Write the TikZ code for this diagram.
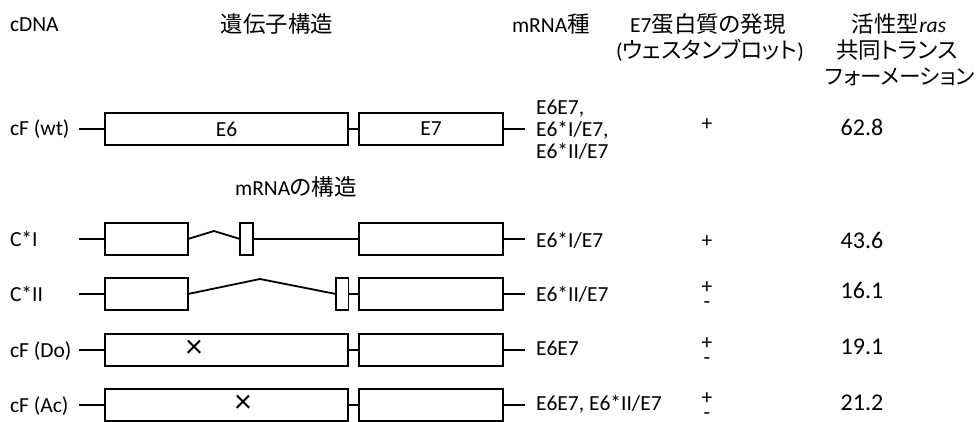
\documentclass[tikz,border=0pt]{standalone}
\usepackage{fontspec}
\setmainfont{Carlito}
\newfontfamily\jp[RawFeature=+palt]{Noto Sans CJK JP}
\newcommand{\jt}[1]{{\jp\fontsize{22.5}{26}\selectfont #1}}
\newcommand{\plusminusstack}{\makebox[0pt][c]{+}\makebox[0pt][c]{\smash{\raisebox{-14.7pt}{-}}}}
\begin{document}
\begin{tikzpicture}[x=1pt,y=-1pt,
  every node/.style={font=\fontsize{21.5}{26}\selectfont, inner sep=0pt, outer sep=0pt},
  exon/.style={draw, line width=1.7pt, minimum height=32pt, fill=white},
  stub/.style={line width=2.7pt},
  splice/.style={line width=1.8pt},
  lbl/.style={anchor=base west},
  hdr/.style={anchor=base},
  val/.style={anchor=center, font=\fontsize{24}{28}\selectfont},
  signmark/.style={anchor=center},
  crossmark/.style={anchor=center, font=\fontsize{33}{33}\selectfont}
]
\useasboundingbox (0,0) rectangle (976,422);

% ---------------- header ----------------
\node[lbl] (hcdna) at (10,32) {cDNA};
\node[hdr] (hgene) at (277,33) {\jt{遺伝子構造}};
\node[lbl] (hmrna) at (512,33) {mRNA\jt{種}};
\node[hdr] (hprot1) at (708,33) {E7\jt{蛋白質の発現}};
\node[hdr] (hprot2) at (710,59) {(\jt{ウェスタンブロット})};
\node[hdr] (hras1) at (899,33) {\jt{活性型}\textit{ras}};
\node[hdr] (hras2) at (897,59) {\jt{共同トランス}};
\node[anchor=base east] (hras3) at (975,85) {{\jp\fontsize{21.5}{26}\selectfont フォーメーション}};
\node[hdr] (hmstruct) at (296,196) {mRNA\jt{の構造}};

% ---------------- cF (wt) ----------------
\node[lbl] (wtlab) at (10,136) {cF (wt)};
\coordinate (wtL) at (79,129);
\coordinate (wtR) at (525,129);
\node[exon, minimum width=243pt] (wtE6) at (226.5,129) {E6};
\node[exon, minimum width=144pt] (wtE7) at (431,129) {E7};
\draw[stub] (wtL) -- (wtE6.west);
\draw[stub] (wtE6.east) -- (wtE7.west);
\draw[stub] (wtE7.east) -- (wtR);
\node[lbl] (wtm1) at (536,115) {E6E7,};
\node[lbl] (wtm2) at (536,137) {E6*I/E7,};
\node[lbl] (wtm3) at (536,159) {E6*II/E7};
\node[signmark] (wtp) at (707,125) {+};
\node[val] (wtv) at (862,127) {62.8};

% ---------------- C*I ----------------
\node[lbl] (c1lab) at (10,246) {C*I};
\coordinate (c1L) at (79,239);
\coordinate (c1R) at (525,239);
\coordinate (c1peak) at (214,231);
\node[exon, minimum width=83pt] (c1a) at (146.5,239) {};
\node[exon, minimum width=13pt] (c1b) at (246.5,239) {};
\node[exon, minimum width=144pt] (c1E7) at (431,239) {};
\draw[stub] (c1L) -- (c1a.west);
\draw[splice] (c1a.east) -- (c1peak) -- (c1b.west);
\draw[stub] (c1b.east) -- (c1E7.west);
\draw[stub] (c1E7.east) -- (c1R);
\node[lbl] (c1m) at (536,247) {E6*I/E7};
\node[signmark] (c1p) at (707,242) {+};
\node[val] (c1v) at (862,240) {43.6};

% ---------------- C*II ----------------
\node[lbl] (c2lab) at (10,301) {C*II};
\coordinate (c2L) at (79,294);
\coordinate (c2R) at (525,294);
\coordinate (c2peak) at (260,279);
\node[exon, minimum width=83pt] (c2a) at (146.5,294) {};
\node[exon, minimum width=12.5pt] (c2b) at (342.25,294) {};
\node[exon, minimum width=144pt] (c2E7) at (431,294) {};
\draw[stub] (c2L) -- (c2a.west);
\draw[splice] (c2a.east) -- (c2peak) -- (c2b.west);
\draw[stub] (c2b.east) -- (c2E7.west);
\draw[stub] (c2E7.east) -- (c2R);
\node[lbl] (c2m) at (536,301) {E6*II/E7};
\node[signmark] (c2pm) at (707,288) {\plusminusstack};
\node[val] (c2v) at (862,290) {16.1};

% ---------------- cF (Do) ----------------
\node[lbl] (dolab) at (10,357) {cF (Do)};
\coordinate (doL) at (79,350);
\coordinate (doR) at (525,350);
\node[exon, minimum width=243pt] (doE6) at (226.5,350) {};
\node[exon, minimum width=144pt] (doE7) at (431,350) {};
\draw[stub] (doL) -- (doE6.west);
\draw[stub] (doE6.east) -- (doE7.west);
\draw[stub] (doE7.east) -- (doR);
\node[crossmark] (dox) at (194,349) {×};
\node[lbl] (dom) at (536,355) {E6E7};
\node[signmark] (dopm) at (707,344) {\plusminusstack};
\node[val] (dov) at (862,347) {19.1};

% ---------------- cF (Ac) ----------------
\node[lbl] (aclab) at (10,412) {cF (Ac)};
\coordinate (acL) at (79,405);
\coordinate (acR) at (525,405);
\node[exon, minimum width=243pt] (acE6) at (226.5,405) {};
\node[exon, minimum width=144pt] (acE7) at (431,405) {};
\draw[stub] (acL) -- (acE6.west);
\draw[stub] (acE6.east) -- (acE7.west);
\draw[stub] (acE7.east) -- (acR);
\node[crossmark] (acx) at (243,404) {×};
\node[lbl] (acm) at (536,410) {E6E7, E6*II/E7};
\node[signmark] (acpm) at (707,399) {\plusminusstack};
\node[val] (acv) at (862,403) {21.2};
\end{tikzpicture}
\end{document}
